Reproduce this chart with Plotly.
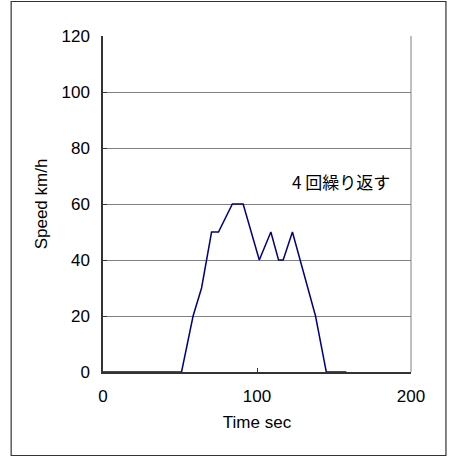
import plotly.graph_objects as go

time_s = [0, 51, 58.5, 64, 70.5, 75, 84, 91, 101.5, 109, 114, 117, 123, 128, 138, 145, 158]
speed_kmh = [0, 0, 20, 30, 50, 50, 60, 60, 40, 50, 40, 40, 50, 40, 20, 0, 0]

x_ticks = [0, 100, 200]
y_ticks = [0, 20, 40, 60, 80, 100, 120]
note_text = "4 回繰り返す"

FONT = "Liberation Sans, Arial, sans-serif"

fig = go.Figure()
fig.add_trace(go.Scatter(x=time_s, y=speed_kmh, mode="lines",
                         line=dict(color="#000080", width=1.5), showlegend=False))

fig.update_layout(
    width=449, height=457,
    margin=dict(l=103, r=37.5, t=36, b=85, autoexpand=False),
    paper_bgcolor="white", plot_bgcolor="white",
    font=dict(family=FONT, size=17, color="black"),
    xaxis=dict(range=[0, 200], tickvals=x_ticks, ticks="inside", ticklen=4,
               tickcolor="#333333", showgrid=False, zeroline=False,
               showline=True, linecolor="#333333", linewidth=1.5,
               mirror=False, ticklabelstandoff=8,
               title=dict(text="Time sec", standoff=11, font=dict(size=17)),
               automargin=False, fixedrange=True),
    yaxis=dict(range=[0, 120], tickvals=y_ticks, ticks="inside", ticklen=4,
               tickcolor="#333333", showgrid=True, gridcolor="#808080", gridwidth=1,
               zeroline=False, showline=True, linecolor="#333333", linewidth=1.5,
               ticklabelstandoff=8,
               title=dict(text="Speed km/h", standoff=10, font=dict(size=17)),
               automargin=False, fixedrange=True),
    shapes=[
        dict(type="line", xref="paper", yref="paper", x0=1, x1=1, y0=0, y1=1,
             line=dict(color="#808080", width=1)),
        dict(type="rect", xref="paper", yref="paper",
             x0=(11 - 103) / 308.5, x1=(446.5 - 103) / 308.5,
             y0=(372 - 455.5) / 336, y1=(372 - 1.5) / 336,
             line=dict(color="#333333", width=1.2), layer="below"),
    ],
    annotations=[dict(x=154.5, y=68.0, xref="x", yref="y", text=note_text,
                      showarrow=False,
                      font=dict(family="Noto Sans CJK JP", size=17, color="black"))],
)

fig.write_html(
    "out.html",
    config={"displayModeBar": False, "responsive": False},
    post_script=(
        "document.documentElement.style.margin='0';"
        "document.documentElement.style.overflow='hidden';"
        "document.body.style.margin='0';"
        "document.body.style.overflow='hidden';"
    ),
)
